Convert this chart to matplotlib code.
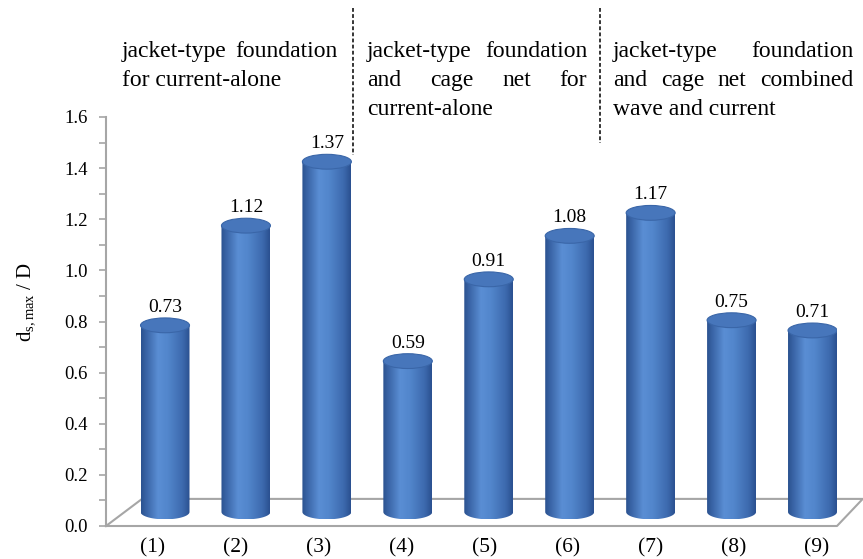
import numpy as np
import matplotlib
matplotlib.use("Agg")
from matplotlib import pyplot as plt
from matplotlib.path import Path
from matplotlib.patches import PathPatch, Ellipse
from matplotlib.lines import Line2D
from matplotlib.colors import LinearSegmentedColormap
from matplotlib.ticker import MultipleLocator, FormatStrFormatter

plt.rcParams['font.family'] = ['Liberation Serif', 'DejaVu Serif']
plt.rcParams['mathtext.fontset'] = 'custom'
plt.rcParams['mathtext.rm'] = 'Liberation Serif'
plt.rcParams['mathtext.it'] = 'Liberation Serif:italic'

# data
cases = ['(1)', '(2)', '(3)', '(4)', '(5)', '(6)', '(7)', '(8)', '(9)']
ratio = [0.73, 1.12, 1.37, 0.59, 0.91, 1.08, 1.17, 0.75, 0.71]
ylabel = r'd$_{\rm s,max}$ / D'

groups = [
    [("jacket-type foundation", True), ("for current-alone", False)],
    [("jacket-type foundation", True), ("and cage net for", True), ("current-alone", False)],
    [("jacket-type foundation", True), ("and cage net combined", True), ("wave and current", False)],
]
group_x = [(122, 338), (367, 587), (613, 853)]
line_y = [57, 86, 115]

W, H = 863, 559
fig = plt.figure(figsize=(W / 100, H / 100), dpi=100)
ax = fig.add_axes([106 / W, 33 / H, 731 / W, 409 / H])

# cylinder look
body_cmap = LinearSegmentedColormap.from_list(
    'cyl', [(0, '#2b5290'), (0.12, '#3b66a8'), (0.35, '#5a8ed4'),
            (0.55, '#5286cc'), (0.85, '#3d6aae'), (1, '#2a5090')])
grad = np.linspace(0, 1, 256).reshape(1, -1)

base = 0.055
a = 0.295     # half width (data)
b = 0.029     # half height of ellipse (data)
pos = 1.145 + 0.975 * np.arange(len(ratio))

for x, v in zip(pos, ratio):
    top = base + v
    t = np.linspace(np.pi, 2 * np.pi, 60)
    verts = [(x - a, top)] + list(zip(x + a * np.cos(t), base + b * np.sin(t))) + [(x + a, top), (x - a, top)]
    codes = [Path.MOVETO] + [Path.LINETO] * (len(verts) - 2) + [Path.CLOSEPOLY]
    clip = PathPatch(Path(verts, codes), transform=ax.transData, facecolor='none', edgecolor='none')
    im = ax.imshow(grad, cmap=body_cmap, extent=[x - a, x + a, base - b, top],
                   aspect='auto', zorder=3, interpolation='bilinear')
    im.set_clip_path(clip)
    ax.add_patch(Ellipse((x, top), 2 * a, 2 * b, facecolor='#4776bb',
                         edgecolor='#3a66a8', linewidth=0.8, zorder=4))
    ax.text(x, top + 0.07, f'{v:.2f}', ha='center', va='center', fontsize=14, zorder=5)

# floor
ax.plot([0.434, 0.868, 9.55, 9.24, 0.434], [0, 0.106, 0.106, 0, 0],
        color='#a6a6a6', lw=1.5, clip_on=False, zorder=1)

ax.set_xlim(0.434, 9.24)
ax.set_ylim(0, 1.6)
ax.set_xticks(np.arange(1, len(cases) + 1))
ax.set_xticklabels(cases, fontsize=15.5)
ax.tick_params(axis='x', length=0, pad=9)
ax.yaxis.set_major_locator(MultipleLocator(0.2))
ax.yaxis.set_minor_locator(MultipleLocator(0.1))
ax.yaxis.set_major_formatter(FormatStrFormatter('%.1f'))
ax.tick_params(axis='y', which='both', length=5, width=1.2, color='#a6a6a6', labelsize=13.5, pad=8)
for s in ['top', 'right', 'bottom']:
    ax.spines[s].set_visible(False)
ax.spines['left'].set_color('#a6a6a6')
ax.spines['left'].set_linewidth(1.5)
ax.set_ylabel(ylabel, fontsize=15)
ax.yaxis.set_label_coords(-0.094, 0.548)

# annotation text, justified by hand
fig.canvas.draw()
renderer = fig.canvas.get_renderer()
for lines, (x0, x1) in zip(groups, group_x):
    for (txt, justify), y in zip(lines, line_y):
        yf = 1 - y / H
        if not justify:
            fig.text(x0 / W, yf, txt, fontsize=17, va='baseline')
            continue
        words = txt.split()
        objs = [fig.text(0, yf, w, fontsize=17, va='baseline') for w in words]
        widths = [o.get_window_extent(renderer).width for o in objs]
        gap = (x1 - x0 - sum(widths)) / (len(words) - 1)
        xc = x0
        for o, w in zip(objs, widths):
            o.set_x(xc / W)
            xc += w + gap

for xd, y1 in [(353, 155), (600, 143)]:
    fig.add_artist(Line2D([xd / W, xd / W], [1 - 8 / H, 1 - y1 / H], transform=fig.transFigure,
                          color='black', lw=1.1, linestyle=(0, (2.5, 1.5))))

plt.savefig('out.png', dpi=100)
